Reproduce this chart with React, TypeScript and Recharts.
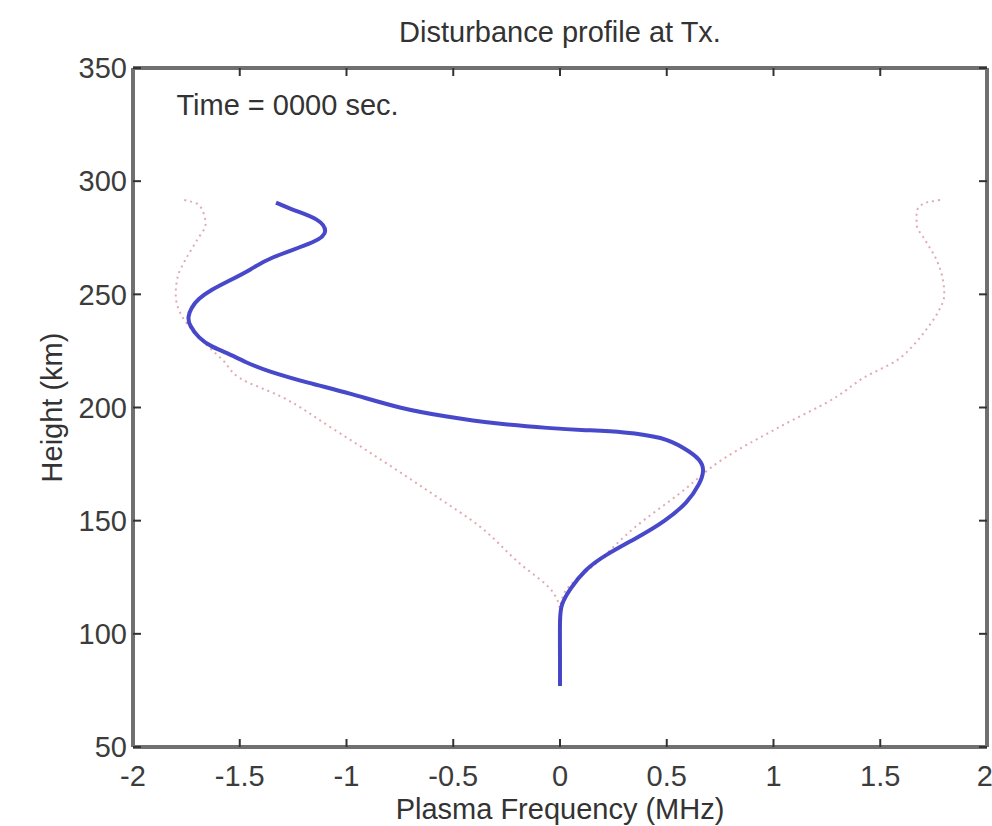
import React from "react";
import { LineChart, Line, XAxis, YAxis, ReferenceDot } from "recharts";

// blue profile: height (km) and plasma frequency offset (MHz), top to bottom
const blueHeight = [290.5, 287, 283, 278, 273, 266.5, 261, 256, 252, 248, 244, 240, 236, 231, 227, 224, 220, 216, 211, 206, 200, 196, 193, 191, 190, 189, 186.5, 182, 177, 172, 166, 158, 150, 143, 135, 128, 120, 113, 105, 90, 77];
const blueFreq = [-1.33, -1.24, -1.14, -1.1, -1.16, -1.34, -1.45, -1.55, -1.63, -1.69, -1.725, -1.74, -1.73, -1.69, -1.63, -1.56, -1.47, -1.36, -1.18, -0.98, -0.75, -0.53, -0.3, -0.06, 0.12, 0.3, 0.47, 0.58, 0.65, 0.67, 0.65, 0.59, 0.49, 0.37, 0.22, 0.12, 0.05, 0.01, 0, 0, 0];

// dotted envelope, left and right branches
const envHeight = [291.7, 290, 286, 281, 274, 266, 258, 250, 242, 235, 228, 221, 213, 205, 191, 177, 162, 147, 132, 118, 110, 77];
const envLeft = [-1.76, -1.7, -1.67, -1.66, -1.7, -1.75, -1.79, -1.8, -1.78, -1.73, -1.66, -1.58, -1.5, -1.31, -1.07, -0.84, -0.6, -0.37, -0.2, -0.03, 0, 0];
const envRight = [1.78, 1.7, 1.67, 1.67, 1.71, 1.76, 1.79, 1.8, 1.77, 1.72, 1.66, 1.58, 1.42, 1.3, 1.02, 0.76, 0.56, 0.35, 0.18, 0.02, 0, 0];

const xTicks = [-2, -1.5, -1, -0.5, 0, 0.5, 1, 1.5, 2];
const yTicks = [50, 100, 150, 200, 250, 300, 350];

const toRows = (hs: number[], fs: number[]) => hs.map((h, i) => ({ h, f: fs[i] }));

const blueData = toRows(blueHeight, blueFreq);
const leftData = toRows(envHeight, envLeft);
const rightData = toRows(envHeight, envRight);

const font = "'Liberation Sans', Arial, sans-serif";
const tickStyle = { fill: "#3c3c3c", fontSize: 29, fontFamily: font };
const frame = { stroke: "#707070", strokeWidth: 4 };
const tickLn = { stroke: "#333", strokeWidth: 2 };
const noLabel = () => "";

export default function App() {
  return (
    <div style={{ width: 992, height: 826, position: "relative", overflow: "hidden", background: "#fff" }}>
      <style>{"body { margin: 0; }"}</style>
      <div
        style={{
          position: "absolute",
          left: 133,
          width: 854,
          top: 18,
          textAlign: "center",
          fontFamily: font,
          fontSize: 29,
          color: "#333",
          lineHeight: "29px",
        }}
      >
        Disturbance profile at Tx.
      </div>
      <div style={{ position: "absolute", left: 8, top: 8 }}>
        <LineChart width={984} height={818} margin={{ top: 59, right: 4, bottom: 0, left: 0 }}>
          <XAxis
            xAxisId="bottom"
            type="number"
            dataKey="f"
            domain={[-2, 2]}
            ticks={xTicks}
            allowDataOverflow
            height={79}
            tick={tickStyle}
            tickSize={-8}
            tickMargin={26}
            axisLine={frame}
            tickLine={tickLn}
            label={{ value: "Plasma Frequency (MHz)", position: "insideBottom", offset: 7, style: { ...tickStyle, fill: "#333" } }}
          />
          <XAxis
            xAxisId="top"
            orientation="top"
            type="number"
            dataKey="f"
            domain={[-2, 2]}
            ticks={xTicks}
            allowDataOverflow
            height={1}
            tick={tickStyle}
            tickFormatter={noLabel}
            tickSize={-8}
            axisLine={frame}
            tickLine={tickLn}
          />
          <YAxis
            yAxisId="left"
            type="number"
            domain={[50, 350]}
            ticks={yTicks}
            allowDataOverflow
            width={125}
            tick={tickStyle}
            tickSize={-8}
            tickMargin={14}
            axisLine={frame}
            tickLine={tickLn}
            label={{ value: "Height (km)", angle: -90, position: "insideLeft", offset: 44, style: { ...tickStyle, fill: "#333", textAnchor: "middle" } }}
          />
          <YAxis
            yAxisId="right"
            orientation="right"
            type="number"
            domain={[50, 350]}
            ticks={yTicks}
            allowDataOverflow
            width={1}
            tick={tickStyle}
            tickFormatter={noLabel}
            tickSize={-8}
            axisLine={frame}
            tickLine={tickLn}
          />
          {/* invisible copy so the top/right axes have a series bound to them */}
          <Line
            xAxisId="top"
            yAxisId="right"
            data={leftData}
            dataKey="h"
            stroke="none"
            dot={false}
            activeDot={false}
            isAnimationActive={false}
          />
          <Line
            xAxisId="bottom"
            yAxisId="left"
            data={leftData}
            dataKey="h"
            type="monotoneY"
            stroke="#e4a8b0"
            strokeWidth={2}
            strokeDasharray="2 4"
            dot={false}
            isAnimationActive={false}
          />
          <Line
            xAxisId="bottom"
            yAxisId="left"
            data={rightData}
            dataKey="h"
            type="monotoneY"
            stroke="#e4a8b0"
            strokeWidth={2}
            strokeDasharray="2 4"
            dot={false}
            isAnimationActive={false}
          />
          <Line
            xAxisId="bottom"
            yAxisId="left"
            data={blueData}
            dataKey="h"
            type="natural"
            stroke="#3434c4"
            strokeWidth={4}
            strokeOpacity={0.9}
            dot={false}
            isAnimationActive={false}
          />
          <ReferenceDot
            xAxisId="bottom"
            yAxisId="left"
            x={-1.82}
            y={334}
            r={0}
            fill="none"
            stroke="none"
            label={{ value: "Time = 0000 sec.", position: "right", style: { ...tickStyle, fill: "#333" } }}
          />
        </LineChart>
      </div>
    </div>
  );
}
